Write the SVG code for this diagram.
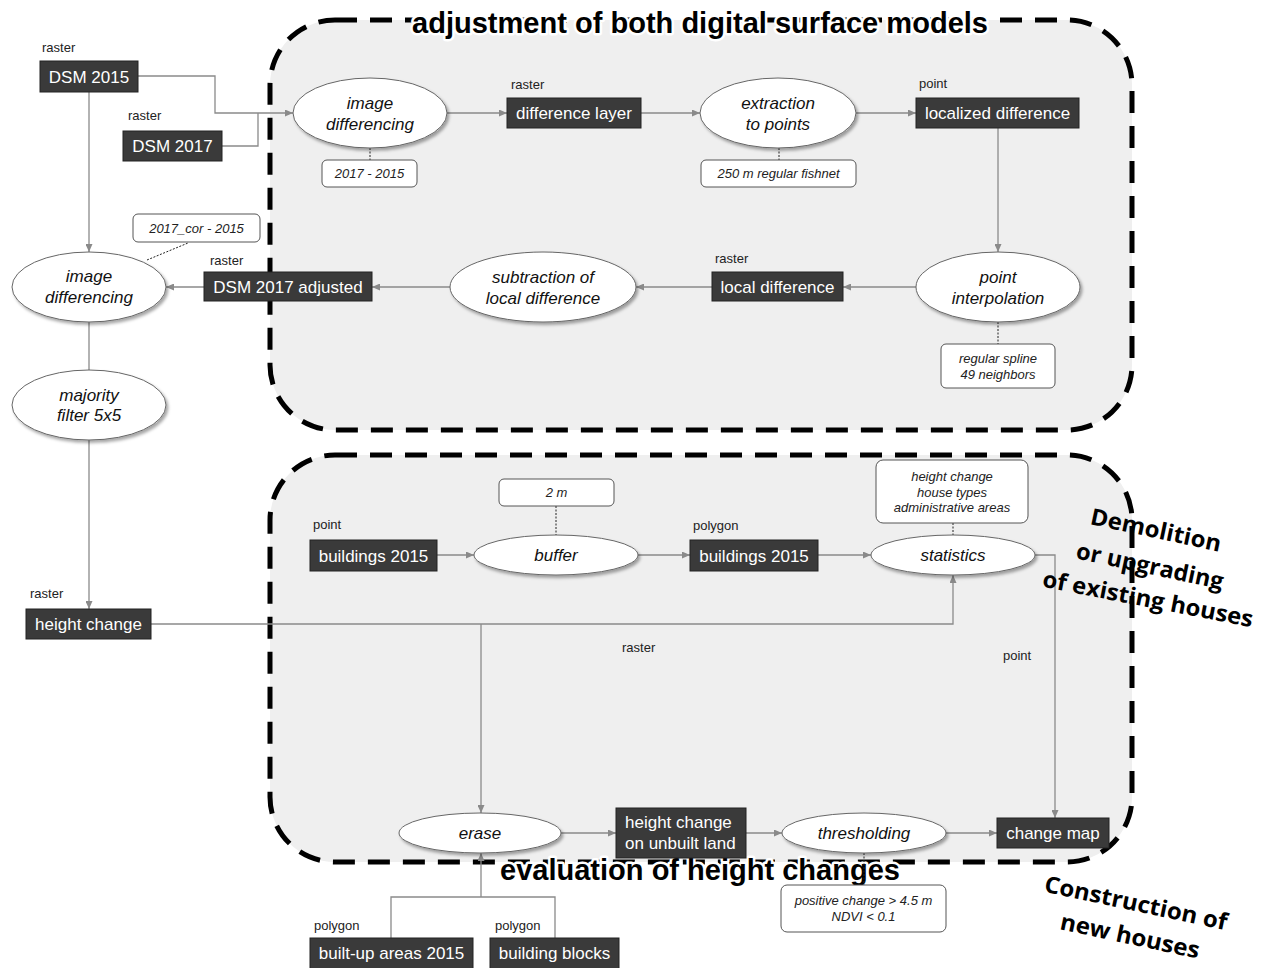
<svg xmlns="http://www.w3.org/2000/svg" width="1265" height="968" viewBox="0 0 1265 968">
<defs>
<marker id="arr" markerUnits="userSpaceOnUse" markerWidth="8" markerHeight="7" refX="8" refY="3.5" orient="auto"><path d="M0,0 L8,3.5 L0,7 z" fill="#8a8a8a"/></marker>
<filter id="sh" x="-20%" y="-20%" width="150%" height="160%"><feDropShadow dx="2" dy="2.5" stdDeviation="1.5" flood-color="#000" flood-opacity="0.35"/></filter>
<style>
.region{fill:#efefef;stroke:#000;stroke-width:5;stroke-dasharray:22 13}
.title{font-family:"Liberation Sans",Arial,sans-serif;font-weight:bold;font-size:29px;fill:#000;stroke:#fff;stroke-width:5;paint-order:stroke;stroke-linejoin:round}
.box{fill:#3a3a3a;stroke:#222;stroke-width:1}
.bt{font-family:"Liberation Sans",Arial,sans-serif;font-size:17px;fill:#fff}
.ell{fill:#fff;stroke:#666;stroke-width:1;filter:url(#sh)}
.et{font-family:"Liberation Sans",Arial,sans-serif;font-size:17px;font-style:italic;fill:#111;text-anchor:middle}
.par{fill:#fff;stroke:#555;stroke-width:1}
.pt{font-family:"Liberation Sans",Arial,sans-serif;font-size:13px;font-style:italic;fill:#222;text-anchor:middle}
.lbl{font-family:"Liberation Sans",Arial,sans-serif;font-size:13px;fill:#222}
.c{fill:none;stroke:#8a8a8a;stroke-width:1.3}
.ca{marker-end:url(#arr)}
.d{fill:none;stroke:#222;stroke-width:1;stroke-dasharray:2 1.5}
.rot{font-family:"Open Sans","Noto Sans",sans-serif;font-weight:bold;font-size:23px;fill:#000;text-anchor:middle}
</style>
</defs>
<rect width="1265" height="968" fill="#fff"/>
<g id="regions">
<rect class="region" x="270" y="20" width="862" height="410" rx="65" ry="65"/>
<rect class="region" x="270" y="455" width="862" height="407" rx="65" ry="65"/>
<text class="title" x="412" y="33" textLength="576" lengthAdjust="spacingAndGlyphs">adjustment of both digital surface models</text>
<text class="title" x="500" y="880" textLength="400" lengthAdjust="spacingAndGlyphs">evaluation of height changes</text>
</g>
<g id="connectors">
<path class="c ca" d="M138,76 H215 V113 H293"/>
<path class="c" d="M222,146 H258 V113"/>
<path class="c ca" d="M89,92 V252"/>
<path class="c ca" d="M447,113 H507"/>
<path class="c ca" d="M641,113 H700"/>
<path class="c ca" d="M856,113 H916"/>
<path class="c ca" d="M998,128 V252"/>
<path class="c ca" d="M916,287 H843"/>
<path class="c ca" d="M712,287 H636"/>
<path class="c ca" d="M450,287 H372"/>
<path class="c ca" d="M204,287 H166"/>
<path class="c" d="M89,322 V370"/>
<path class="c ca" d="M89,440 V609"/>
<path class="c ca" d="M151,624 H953 V575"/>
<path class="c ca" d="M481,624 V813"/>
<path class="c ca" d="M437,555 H474"/>
<path class="c ca" d="M638,555 H690"/>
<path class="c ca" d="M818,555 H871"/>
<path class="c ca" d="M1035,555 H1055 V818"/>
<path class="c ca" d="M561,833 H616"/>
<path class="c ca" d="M746,833 H782"/>
<path class="c ca" d="M946,833 H997"/>
<path class="c" d="M391,938 V897 H555 V938"/>
<path class="c ca" d="M481,897 V853"/>
<path class="d" d="M370,148 V160"/>
<path class="d" d="M779,148 V160"/>
<path class="d" d="M147,260 L188,243"/>
<path class="d" d="M998,322 V344"/>
<path class="d" d="M556,506 V535"/>
<path class="d" d="M953,523 V535"/>
<path class="d" d="M864,853 V885"/>
<text class="lbl" x="622" y="652">raster</text>
<text class="lbl" x="1003" y="660">point</text>
</g>
<g id="dsm2015"><text class="lbl" x="42" y="52">raster</text><rect class="box" x="40" y="61" width="98" height="31"/><text class="bt" x="89" y="82.5" text-anchor="middle">DSM 2015</text></g>
<g id="dsm2017"><text class="lbl" x="128" y="120">raster</text><rect class="box" x="123" y="131" width="99" height="30"/><text class="bt" x="172.5" y="152" text-anchor="middle">DSM 2017</text></g>
<g id="difflayer"><text class="lbl" x="511" y="89">raster</text><rect class="box" x="507" y="98" width="134" height="30"/><text class="bt" x="574" y="119" text-anchor="middle">difference layer</text></g>
<g id="localized"><text class="lbl" x="919" y="88">point</text><rect class="box" x="916" y="98" width="163" height="30"/><text class="bt" x="997.5" y="119" text-anchor="middle">localized difference</text></g>
<g id="localdiff"><text class="lbl" x="715" y="263">raster</text><rect class="box" x="712" y="272" width="131" height="29"/><text class="bt" x="777.5" y="292.5" text-anchor="middle">local difference</text></g>
<g id="dsm2017adj"><text class="lbl" x="210" y="265">raster</text><rect class="box" x="204" y="272" width="168" height="29"/><text class="bt" x="288" y="292.5" text-anchor="middle">DSM 2017 adjusted</text></g>
<g id="heightchange"><text class="lbl" x="30" y="598">raster</text><rect class="box" x="26" y="609" width="125" height="30"/><text class="bt" x="88.5" y="630" text-anchor="middle">height change</text></g>
<g id="bld2015pt"><text class="lbl" x="313" y="529">point</text><rect class="box" x="310" y="540" width="127" height="31"/><text class="bt" x="373.5" y="561.5" text-anchor="middle">buildings 2015</text></g>
<g id="bld2015poly"><text class="lbl" x="693" y="530">polygon</text><rect class="box" x="690" y="540" width="128" height="31"/><text class="bt" x="754" y="561.5" text-anchor="middle">buildings 2015</text></g>
<g id="hcunbuilt"><rect class="box" x="616" y="808" width="130" height="50"/><text class="bt" x="625" y="828">height change</text><text class="bt" x="625" y="849">on unbuilt land</text></g>
<g id="changemap"><rect class="box" x="997" y="818" width="112" height="30"/><text class="bt" x="1053" y="839" text-anchor="middle">change map</text></g>
<g id="builtup"><text class="lbl" x="314" y="930">polygon</text><rect class="box" x="310" y="938" width="163" height="31"/><text class="bt" x="391.5" y="959" text-anchor="middle">built-up areas 2015</text></g>
<g id="blocks"><text class="lbl" x="495" y="930">polygon</text><rect class="box" x="490" y="938" width="129" height="31"/><text class="bt" x="554.5" y="959" text-anchor="middle">building blocks</text></g>
<g id="imgdiff1"><ellipse class="ell" cx="370" cy="113" rx="77" ry="35"/><text class="et" x="370" y="109">image</text><text class="et" x="370" y="130">differencing</text></g>
<g id="extraction"><ellipse class="ell" cx="778" cy="113" rx="78" ry="35"/><text class="et" x="778" y="109">extraction</text><text class="et" x="778" y="130">to points</text></g>
<g id="interp"><ellipse class="ell" cx="998" cy="287" rx="82" ry="35"/><text class="et" x="998" y="283">point</text><text class="et" x="998" y="304">interpolation</text></g>
<g id="subtraction"><ellipse class="ell" cx="543" cy="287" rx="93" ry="35"/><text class="et" x="543" y="283">subtraction of</text><text class="et" x="543" y="304">local difference</text></g>
<g id="imgdiff2"><ellipse class="ell" cx="89" cy="287" rx="77" ry="35"/><text class="et" x="89" y="282">image</text><text class="et" x="89" y="303">differencing</text></g>
<g id="majority"><ellipse class="ell" cx="89" cy="405" rx="77" ry="35"/><text class="et" x="89" y="401">majority</text><text class="et" x="89" y="421">filter 5x5</text></g>
<g id="buffer"><ellipse class="ell" cx="556" cy="555" rx="82" ry="20"/><text class="et" x="556" y="561">buffer</text></g>
<g id="statistics"><ellipse class="ell" cx="953" cy="555" rx="82" ry="20"/><text class="et" x="953" y="561">statistics</text></g>
<g id="erase"><ellipse class="ell" cx="480" cy="833" rx="81" ry="20"/><text class="et" x="480" y="839">erase</text></g>
<g id="thresholding"><ellipse class="ell" cx="864" cy="833" rx="82" ry="20"/><text class="et" x="864" y="839">thresholding</text></g>
<g id="p1"><rect class="par" x="322" y="160" width="95" height="27" rx="5"/><text class="pt" x="369.5" y="178">2017 - 2015</text></g>
<g id="p2"><rect class="par" x="701" y="160" width="155" height="27" rx="5"/><text class="pt" x="778.5" y="178">250 m regular fishnet</text></g>
<g id="p3"><rect class="par" x="133" y="214" width="127" height="28" rx="5"/><text class="pt" x="196.5" y="233">2017_cor - 2015</text></g>
<g id="p4"><rect class="par" x="941" y="344" width="114" height="44" rx="5"/><text class="pt" x="998" y="363">regular spline</text><text class="pt" x="998" y="379">49 neighbors</text></g>
<g id="p5"><rect class="par" x="499" y="479" width="115" height="27" rx="5"/><text class="pt" x="556.5" y="497">2 m</text></g>
<g id="p6"><rect class="par" x="876" y="460" width="152" height="63" rx="7"/><text class="pt" x="952" y="481">height change</text><text class="pt" x="952" y="497">house types</text><text class="pt" x="952" y="512">administrative areas</text></g>
<g id="p7"><rect class="par" x="781" y="885" width="165" height="47" rx="6"/><text class="pt" x="863.5" y="905">positive change &gt; 4.5 m</text><text class="pt" x="863.5" y="921">NDVI &lt; 0.1</text></g>
<g id="captions">
<text class="rot" transform="translate(1156,530) rotate(12)" y="8" textLength="133" lengthAdjust="spacingAndGlyphs">Demolition</text>
<text class="rot" transform="translate(1150,566) rotate(12)" y="8" textLength="150" lengthAdjust="spacingAndGlyphs">or upgrading</text>
<text class="rot" transform="translate(1148,599) rotate(11)" y="8" textLength="214" lengthAdjust="spacingAndGlyphs">of existing houses</text>
<text class="rot" transform="translate(1136,903) rotate(12)" y="8" textLength="186" lengthAdjust="spacingAndGlyphs">Construction of</text>
<text class="rot" transform="translate(1130,936) rotate(12)" y="8" textLength="142" lengthAdjust="spacingAndGlyphs">new houses</text>
</g>
</svg>
